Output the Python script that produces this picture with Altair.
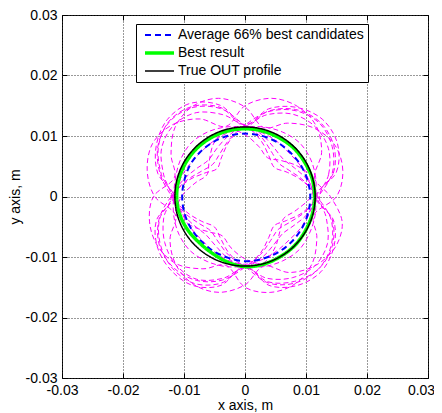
import numpy as np
import pandas as pd
import altair as alt

angles_deg = [0, 15, 30, 45, 60, 75, 90, 105, 120, 135, 150, 165,
              180, 195, 210, 225, 240, 255, 270, 285, 300, 315, 330, 345]

# candidate profiles (radius in m at each angle)
cand = {
    "c01": [0.0118, 0.0150, 0.0168, 0.0174, 0.0166, 0.0146, 0.0116, 0.0152, 0.0172, 0.0176, 0.0164, 0.0142,
            0.0120, 0.0145, 0.0160, 0.0168, 0.0166, 0.0148, 0.0117, 0.0146, 0.0162, 0.0170, 0.0165, 0.0148],
    "c02": [0.0122, 0.0142, 0.0158, 0.0163, 0.0157, 0.0140, 0.0119, 0.0140, 0.0160, 0.0166, 0.0158, 0.0138,
            0.0121, 0.0138, 0.0152, 0.0160, 0.0158, 0.0140, 0.0118, 0.0140, 0.0155, 0.0162, 0.0156, 0.0138],
    "c03": [0.0150, 0.0166, 0.0170, 0.0160, 0.0140, 0.0118, 0.0148, 0.0168, 0.0172, 0.0162, 0.0140, 0.0120,
            0.0150, 0.0162, 0.0165, 0.0158, 0.0138, 0.0118, 0.0150, 0.0164, 0.0166, 0.0156, 0.0136, 0.0117],
    "c04": [0.0140, 0.0118, 0.0145, 0.0165, 0.0172, 0.0168, 0.0150, 0.0120, 0.0148, 0.0168, 0.0175, 0.0166,
            0.0148, 0.0118, 0.0142, 0.0160, 0.0168, 0.0164, 0.0146, 0.0119, 0.0145, 0.0162, 0.0170, 0.0165],
    "c05": [0.0116, 0.0098, 0.0080, 0.0068, 0.0078, 0.0097, 0.0115, 0.0096, 0.0076, 0.0065, 0.0077, 0.0098,
            0.0117, 0.0099, 0.0082, 0.0071, 0.0080, 0.0098, 0.0114, 0.0097, 0.0078, 0.0068, 0.0079, 0.0099],
    "c06": [0.0118, 0.0106, 0.0094, 0.0088, 0.0094, 0.0106, 0.0117, 0.0104, 0.0092, 0.0085, 0.0092, 0.0105,
            0.0119, 0.0107, 0.0096, 0.0090, 0.0095, 0.0106, 0.0116, 0.0105, 0.0093, 0.0087, 0.0094, 0.0107],
    "c07": [0.0108, 0.0115, 0.0100, 0.0084, 0.0074, 0.0086, 0.0102, 0.0116, 0.0102, 0.0083, 0.0072, 0.0085,
            0.0104, 0.0117, 0.0099, 0.0083, 0.0075, 0.0088, 0.0103, 0.0114, 0.0098, 0.0081, 0.0073, 0.0087],
    "c08": [0.0118, 0.0100, 0.0085, 0.0078, 0.0086, 0.0102, 0.0117, 0.0150, 0.0170, 0.0175, 0.0165, 0.0144,
            0.0120, 0.0103, 0.0088, 0.0080, 0.0087, 0.0101, 0.0116, 0.0148, 0.0165, 0.0170, 0.0163, 0.0146],
    "c09": [0.0120, 0.0148, 0.0165, 0.0172, 0.0164, 0.0145, 0.0118, 0.0098, 0.0082, 0.0075, 0.0083, 0.0100,
            0.0121, 0.0146, 0.0162, 0.0166, 0.0160, 0.0143, 0.0117, 0.0099, 0.0084, 0.0077, 0.0085, 0.0101],
    "c10": [0.0116, 0.0120, 0.0124, 0.0126, 0.0123, 0.0119, 0.0115, 0.0119, 0.0123, 0.0125, 0.0122, 0.0118,
            0.0117, 0.0121, 0.0125, 0.0127, 0.0124, 0.0120, 0.0116, 0.0120, 0.0123, 0.0125, 0.0122, 0.0119],
    "c11": [0.0112, 0.0108, 0.0104, 0.0102, 0.0105, 0.0109, 0.0113, 0.0109, 0.0105, 0.0103, 0.0105, 0.0110,
            0.0111, 0.0107, 0.0103, 0.0101, 0.0104, 0.0109, 0.0112, 0.0108, 0.0104, 0.0102, 0.0105, 0.0109],
    "c12": [0.0116, 0.0155, 0.0175, 0.0180, 0.0170, 0.0150, 0.0118, 0.0156, 0.0178, 0.0180, 0.0168, 0.0148,
            0.0117, 0.0150, 0.0166, 0.0172, 0.0170, 0.0152, 0.0115, 0.0152, 0.0170, 0.0176, 0.0168, 0.0150],
}

avg_r = [0.0107, 0.0106, 0.0105, 0.0104, 0.0104, 0.0104, 0.0104, 0.0104, 0.0104, 0.0104, 0.0104, 0.0103,
         0.0103, 0.0103, 0.0103, 0.0103, 0.0104, 0.0105, 0.0107, 0.0107, 0.0107, 0.0107, 0.0107, 0.0107]
best_r = [0.0114, 0.0114, 0.0113, 0.0113, 0.0112, 0.0112, 0.0112, 0.0112, 0.0112, 0.0112, 0.0112, 0.0112,
          0.0112, 0.0111, 0.0109, 0.0107, 0.0108, 0.0112, 0.0116, 0.0116, 0.0115, 0.0115, 0.0114, 0.0114]
true_r = [0.0115] * 24

series_names = ["Average 66% best candidates", "Best result", "True OUT profile"]
series_r = [avg_r, best_r, true_r]

tick_vals = [-0.03, -0.02, -0.01, 0, 0.01, 0.02, 0.03]


def polar_rows(name, rl):
    th = np.deg2rad(np.array(angles_deg, dtype=float))
    r = np.array(rl, dtype=float)
    xs, ys = r * np.cos(th), r * np.sin(th)
    return [dict(curve=name, idx=i, x=float(a), y=float(b)) for i, (a, b) in enumerate(zip(xs, ys))]


cand_rows = []
for k, v in cand.items():
    cand_rows += polar_rows(k, v)
cand_df = pd.DataFrame(cand_rows)

main_rows = []
for k, v in zip(series_names, series_r):
    main_rows += polar_rows(k, v)
main_df = pd.DataFrame(main_rows)

ticks_df = pd.DataFrame({"x": tick_vals, "y": tick_vals})

dom = [-0.03, 0.03]


def sc():
    return alt.Scale(domain=dom, nice=False, zero=False)


label_expr = ("abs(datum.value) < 1e-9 ? '0' : (datum.value < 0 ? '-' + format(-datum.value, '.2~f') "
              ": format(datum.value, '.2~f'))")

common_axis = dict(values=tick_vals, labelExpr=label_expr, grid=True, gridDash=[1, 2], gridColor="#333333",
                   gridWidth=1, ticks=False, domain=False, labelFlush=False, labelOverlap=False)

x_main = alt.Axis(title="x axis, m", labelPadding=5, titleBaseline="alphabetic", titleY=31,
                  labelOffset={"condition": {"test": "datum.value > 0.029", "value": -7}, "value": 0},
                  **common_axis)
y_main = alt.Axis(title="y axis, m", labelPadding=5, titleBaseline="alphabetic", titleX=-43, **common_axis)

cand_layer = alt.Chart(cand_df).mark_line(
    color="#FF00FF", strokeDash=[5, 3], strokeWidth=1, interpolate="cardinal-closed"
).encode(
    x=alt.X("x:Q", scale=sc(), axis=x_main),
    y=alt.Y("y:Q", scale=sc(), axis=y_main),
    order="idx:Q",
    detail="curve:N",
)

main_layer = alt.Chart(main_df).mark_line(interpolate="cardinal-closed").encode(
    x=alt.X("x:Q", scale=sc(), axis=None),
    y=alt.Y("y:Q", scale=sc(), axis=None),
    order="idx:Q",
    color=alt.Color("curve:N", scale=alt.Scale(domain=series_names, range=["#0000FF", "#00FF00", "#000000"]),
                    legend=alt.Legend(title=None)),
    strokeDash=alt.StrokeDash("curve:N", scale=alt.Scale(domain=series_names, range=[[6, 4], [1, 0], [1, 0]]),
                              legend=alt.Legend(title=None)),
    strokeWidth=alt.StrokeWidth("curve:N", scale=alt.Scale(type="ordinal", domain=series_names, range=[2, 3.5, 1.5]),
                                legend=alt.Legend(title=None)),
)

tick_common = dict(values=tick_vals, ticks=True, tickSize=5, tickColor="black", tickWidth=1,
                   labels=False, domain=False, grid=False, title=None, offset=-5)

tick_layer1 = alt.Chart(ticks_df).mark_point(opacity=0).encode(
    x=alt.X("x:Q", scale=sc(), axis=alt.Axis(orient="bottom", **tick_common)),
    y=alt.Y("y:Q", scale=sc(), axis=alt.Axis(orient="right", **tick_common)),
)
tick_layer2 = alt.Chart(ticks_df).mark_point(opacity=0).encode(
    x=alt.X("x:Q", scale=sc(), axis=alt.Axis(orient="top", **tick_common)),
    y=alt.Y("y:Q", scale=sc(), axis=alt.Axis(orient="left", **tick_common)),
)

chart = alt.layer(cand_layer, main_layer, tick_layer1, tick_layer2).resolve_scale(
    x="independent", y="independent"
).properties(
    width=366, height=363,
    padding={"left": 54, "top": 7, "right": 6, "bottom": 35},
    autosize=alt.AutoSizeParams(type="none"),
    background="white",
).configure_view(
    stroke="black", strokeWidth=1
).configure_axis(
    labelFont="Liberation Sans", titleFont="Liberation Sans", labelFontSize=14, titleFontSize=14,
    titleFontWeight="normal", labelColor="black", titleColor="black"
).configure_legend(
    orient="none", legendX=74, legendY=9, padding=4, symbolType="stroke", symbolSize=841,
    clipHeight=14, rowPadding=4, symbolOffset=3, labelOffset=2, labelFont="Liberation Sans",
    labelFontSize=14, labelColor="black", labelLimit=400, strokeColor="black", fillColor="white",
    labelBaseline="middle"
)

chart.save("out.html", embed_options={"renderer": "svg", "actions": False})
